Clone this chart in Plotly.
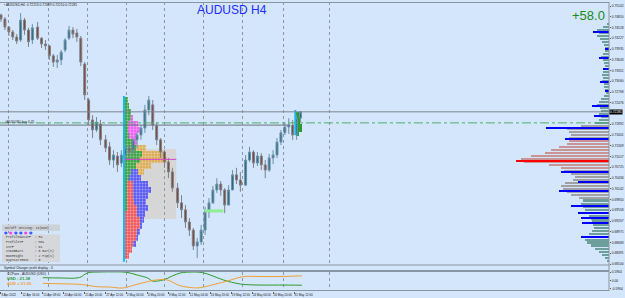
import plotly.graph_objects as go

# ---------------- data ----------------
header_text = "AUDUSD,H4  0.72213 0.72369 0.72210 0.72281"
chart_title = "AUDUSD H4"
profit_text = "+58.0"

time_labels = ["8 Apr 2022", "12 Apr 16:00", "15 Apr 08:00", "20 Apr 04:00", "21 Apr 20:00",
               "27 Apr 12:00", "2 May 04:00", "4 May 20:00", "9 May 12:00", "12 May 04:00",
               "16 May 20:00", "19 May 12:00", "24 May 04:00", "26 May 20:00", "31 May 12:00"]
label_bars = [0, 16, 32, 48, 64, 80, 96, 112, 128, 144, 160, 176, 192, 208, 224]
grid_bars = [6, 36, 66, 96, 125, 155, 185, 216, 251]

price_ticks = [0.75102, 0.74810, 0.74518, 0.74227, 0.73935, 0.73643, 0.73351, 0.73060,
               0.72768, 0.72476, 0.71892, 0.71601, 0.71309, 0.71017, 0.70725,
               0.70434, 0.70142, 0.69850, 0.69558, 0.69267, 0.68975, 0.68683, 0.68391, 0.68100]

candle_bars = [0, 3, 6, 9, 12, 15, 18, 21, 24, 28, 31, 34, 37, 40, 43, 46, 49, 52, 55, 58,
               61, 64, 67, 70, 73, 76, 80, 83, 86, 89, 92, 95, 98, 101, 104, 107, 110, 113,
               116, 119, 122, 125, 128, 131, 135, 138, 141, 144, 147, 150, 153, 156, 159, 162,
               165, 168, 171, 174, 177, 180, 183, 187, 190, 193, 196, 199, 202, 205, 208, 211,
               214, 217, 220, 223, 226, 229]
open_ = [0.7486, 0.7475, 0.7453, 0.7440, 0.7426, 0.7418, 0.7472, 0.7445, 0.7418, 0.7453,
         0.7423, 0.7407, 0.7402, 0.7375, 0.7358, 0.7364, 0.7391, 0.7423, 0.7445, 0.7437,
         0.7423, 0.7353, 0.7255, 0.7201, 0.7174, 0.7190, 0.7147, 0.7128, 0.7092, 0.7103,
         0.7084, 0.7106, 0.7125, 0.7119, 0.7147, 0.7160, 0.7179, 0.7228, 0.7242, 0.7185,
         0.7147, 0.7114, 0.7087, 0.7060, 0.7016, 0.6976, 0.6957, 0.6924, 0.6902, 0.6859,
         0.6870, 0.6902, 0.6951, 0.6976, 0.7011, 0.7027, 0.7011, 0.6970, 0.7011, 0.7052,
         0.7038, 0.7024, 0.7092, 0.7114, 0.7084, 0.7103, 0.7079, 0.7065, 0.7098, 0.7106,
         0.7141, 0.7166, 0.7182, 0.7187, 0.7160, 0.7206]
high = [0.7489, 0.7480, 0.7456, 0.7445, 0.7434, 0.7491, 0.7478, 0.7451, 0.7461, 0.7467,
        0.7426, 0.7418, 0.7404, 0.7380, 0.7377, 0.7391, 0.7423, 0.7456, 0.7453, 0.7448,
        0.7429, 0.7358, 0.7261, 0.7214, 0.7209, 0.7201, 0.7160, 0.7141, 0.7119, 0.7114,
        0.7119, 0.7133, 0.7133, 0.7152, 0.7168, 0.7187, 0.7242, 0.7266, 0.7255, 0.7195,
        0.7152, 0.7119, 0.7098, 0.7071, 0.7030, 0.6997, 0.6970, 0.6935, 0.6908, 0.6881,
        0.6916, 0.6965, 0.6989, 0.7022, 0.7043, 0.7035, 0.7016, 0.7024, 0.7065, 0.7071,
        0.7060, 0.7106, 0.7128, 0.7119, 0.7114, 0.7111, 0.7092, 0.7109, 0.7119, 0.7152,
        0.7174, 0.7195, 0.7206, 0.7201, 0.7214, 0.7225]
low = [0.7467, 0.7445, 0.7429, 0.7418, 0.7407, 0.7413, 0.7432, 0.7399, 0.7407, 0.7418,
       0.7396, 0.7391, 0.7364, 0.7345, 0.7342, 0.7350, 0.7385, 0.7418, 0.7423, 0.7413,
       0.7347, 0.7255, 0.7187, 0.7152, 0.7168, 0.7133, 0.7114, 0.7079, 0.7071, 0.7060,
       0.7073, 0.7087, 0.7092, 0.7106, 0.7125, 0.7147, 0.7166, 0.7214, 0.7174, 0.7133,
       0.7098, 0.7071, 0.7043, 0.7006, 0.6962, 0.6935, 0.6908, 0.6886, 0.6848, 0.6826,
       0.6862, 0.6889, 0.6935, 0.6973, 0.7003, 0.6995, 0.6948, 0.6970, 0.7011, 0.7027,
       0.7006, 0.7024, 0.7087, 0.7071, 0.7076, 0.7065, 0.7043, 0.7060, 0.7081, 0.7098,
       0.7133, 0.7160, 0.7163, 0.7147, 0.7147, 0.7195]
close = [0.7475, 0.7453, 0.7440, 0.7426, 0.7415, 0.7472, 0.7445, 0.7413, 0.7451, 0.7423,
         0.7407, 0.7402, 0.7375, 0.7358, 0.7364, 0.7385, 0.7418, 0.7445, 0.7434, 0.7426,
         0.7358, 0.7269, 0.7201, 0.7174, 0.7195, 0.7147, 0.7125, 0.7092, 0.7106, 0.7079,
         0.7106, 0.7125, 0.7114, 0.7147, 0.7160, 0.7179, 0.7228, 0.7255, 0.7187, 0.7147,
         0.7114, 0.7087, 0.7060, 0.7016, 0.6976, 0.6957, 0.6924, 0.6902, 0.6859, 0.6870,
         0.6902, 0.6951, 0.6976, 0.7011, 0.7027, 0.7011, 0.6970, 0.7011, 0.7052, 0.7038,
         0.7024, 0.7092, 0.7114, 0.7084, 0.7103, 0.7079, 0.7065, 0.7098, 0.7106, 0.7141,
         0.7166, 0.7182, 0.7187, 0.7160, 0.7206, 0.7223]

bid_price = 0.7223
bid_label = "0.72281"
order_price = 0.7193
level_price = 0.7187
level_end_bar = 221
support_price = 0.6954
support_bars = [156, 170]

# left (multi-day) market profile
profile_start_bar = 94
profile_top, profile_bottom = 0.7266, 0.6816
lp_prices = [0.7255, 0.7239, 0.7223, 0.7206, 0.7190, 0.7174, 0.7157, 0.7141, 0.7125,
             0.7109, 0.7092, 0.7076, 0.7060, 0.7043, 0.7027, 0.7011, 0.6995, 0.6978,
             0.6962, 0.6946, 0.6929, 0.6913, 0.6897, 0.6881, 0.6864, 0.6848, 0.6832]
lp_green = [3, 4, 5, 5, 3, 3, 4, 6, 9, 14, 12, 9, 5, 4, 2, 2, 2, 2, 2, 1, 1, 1, 1, 1, 1, 1, 1]
lp_red = [0] * 14 + [5, 5, 5, 6, 8, 9, 11, 11, 9, 8, 6, 5, 3]
lp_blue = [0] * 12 + [6, 9, 11, 14, 11, 9, 8, 6, 3, 2, 2, 2, 2, 0, 0]
lp_orange = [0] * 7 + [2, 8, 17, 21, 12, 4] + [0] * 14
lp_magenta = [0, 0, 0, 2, 8, 9, 6, 2] + [0] * 19
lp_poc = 0.7094
lp_poc_bars = [94, 134]
box_bars = [107, 134]
box_prices = [0.7122, 0.6932]

# current-day mini profile
cd_start_bar = 225
cd_top, cd_bottom = 0.7228, 0.7160
cd_prices = [0.7217, 0.7206, 0.7195, 0.7185, 0.7174, 0.7163]
cd_green = [2, 3, 3, 4, 4, 2]

# right volume profile (levels / volume)
vp_prices = [0.7461, 0.7453, 0.7445, 0.7437, 0.7429, 0.7421, 0.7413, 0.7404, 0.7396, 0.7388,
             0.7380, 0.7372, 0.7364, 0.7356, 0.7348, 0.7339, 0.7331, 0.7323, 0.7315, 0.7307,
             0.7299, 0.7291, 0.7282, 0.7274, 0.7266, 0.7258, 0.7250, 0.7242, 0.7234, 0.7226,
             0.7217, 0.7209, 0.7201, 0.7193, 0.7185, 0.7177, 0.7169, 0.7160, 0.7152, 0.7144,
             0.7136, 0.7128, 0.7120, 0.7112, 0.7104, 0.7095, 0.7087, 0.7079, 0.7071, 0.7063,
             0.7055, 0.7047, 0.7038, 0.7030, 0.7022, 0.7014, 0.7006, 0.6998, 0.6990, 0.6982,
             0.6973, 0.6965, 0.6957, 0.6949, 0.6941, 0.6933, 0.6925, 0.6917, 0.6908, 0.6900,
             0.6892, 0.6884, 0.6876, 0.6868, 0.6860, 0.6851, 0.6843, 0.6835, 0.6827, 0.6819]
vp_volume = [2, 6, 12, 10, 12, 9, 7, 5, 4, 4, 6, 8, 6, 5, 4, 5, 6, 7, 6, 7,
             5, 5, 4, 3, 5, 8, 10, 12, 9, 8, 10, 8, 10, 14, 28, 42, 40, 38, 40, 40,
             42, 50, 58, 64, 78, 88, 85, 60, 48, 45, 38, 34, 36, 44, 48, 46, 42, 38, 30, 26,
             28, 26, 24, 22, 20, 18, 17, 16, 15, 17, 20, 22, 24, 22, 18, 14, 10, 7, 4, 2]
value_area = [0.7190, 0.6984]
poc_zone = [0.7150, 0.7068]
hvn_prices = [0.7440, 0.7394, 0.7369, 0.7339, 0.7304, 0.7280, 0.7239, 0.7212, 0.7179,
              0.7149, 0.7060, 0.7033, 0.7008, 0.6967, 0.6948, 0.6935, 0.6921, 0.6883]
hvn_volume = [16, 4, 10, 6, 9, 4, 17, 15, 63, 44, 48, 31, 50, 38, 31, 28, 27, 28]
poc_price = 0.7090
poc_volume = 93

# CCPairs currency strength sub-window
ccp_bars = [32, 45, 60, 66, 76, 87, 96, 104, 112, 116, 124, 131, 137, 147, 154, 162, 170,
            183, 198, 213, 230]
usd_strength = [0.20, 0.18, 0.21, 0.53, 0.60, 0.61, 0.58, 0.39, 0.18, -0.04, 0.04, 0.32,
                0.53, 0.60, 0.56, 0.32, 0.04, -0.25, -0.32, -0.32, -0.33]
aud_bars = [32, 45, 60, 74, 83, 93, 102, 112, 119, 127, 137, 147, 152, 164, 173, 185, 198,
            213, 230]
aud_strength = [-0.20, -0.23, -0.27, -0.44, -0.46, -0.53, -0.32, -0.08, 0.04, 0.04, -0.37,
                -0.51, -0.51, -0.25, -0.04, 0.27, 0.28, 0.28, 0.33]
sub_ticks = [0.5964, 0.0, -0.5964]
sub_tick_text = ["0.5964", "0.00", "-0.5964"]

info_lines = ["ProfileDataTF  : H4", "ProfileTF      : MN1", "ISTF           : D1",
              "ISNumBars      : 6 Bar(s)", "BoxHeight      : 2 Pip(s)", "DayStartHour   : 0"]
info_dots = ["#3a5bff", "#ff44dd", "#3a5bff", "#3a5bff", "#ff44dd", "#3a5bff"]

# ---------------- figure ----------------
BG = "#d4e6fb"
W, H = 625, 298
M_L, M_R, M_T, M_B = 0, 16, 2, 7
plot_h = H - M_T - M_B
plot_w = W - M_L - M_R


def ypx(y_px):
    return (H - M_B - y_px) / plot_h


def dom(y_top_px, y_bot_px):
    return [ypx(y_bot_px), ypx(y_top_px)]


def xpx(x_px):
    return (x_px - M_L) / plot_w


main_dom = dom(M_T, 265)
tiny_dom = dom(266, 270)
sub_dom = dom(272, H - M_B)

fig = go.Figure()

fig.add_trace(go.Candlestick(
    x=candle_bars, open=open_, high=high, low=low, close=close, xaxis="x", yaxis="y",
    increasing=dict(line=dict(color="#6a90a8", width=1), fillcolor="#2d6878"),
    decreasing=dict(line=dict(color="#7f8088", width=1), fillcolor="#7a4434"),
    whiskerwidth=0, showlegend=False, hoverinfo="skip"))

# left profile (stacked days)
segments = [(lp_green, "#2e9a2e"), (lp_red, "#f24a4a"), (lp_blue, "#4b4bf5"),
            (lp_orange, "#dca84a"), (lp_magenta, "#f050f0")]
cum = [0] * len(lp_prices)
for vals, col in segments:
    fig.add_trace(go.Bar(
        orientation="h", y=lp_prices, x=vals, base=[profile_start_bar + c for c in cum],
        width=0.0015, marker=dict(color=col, line=dict(width=0), opacity=0.9,
                                  pattern=dict(shape=".", fgcolor="#ffffff", fgopacity=0.45,
                                               size=3, solidity=0.35)),
        xaxis="x", yaxis="y", showlegend=False, hoverinfo="skip"))
    cum = [c + v for c, v in zip(cum, vals)]

fig.add_trace(go.Scatter(x=lp_poc_bars, y=[lp_poc, lp_poc], mode="lines",
                         line=dict(color="#d040d0", width=1), xaxis="x", yaxis="y",
                         showlegend=False, hoverinfo="skip"))
fig.add_trace(go.Scatter(x=[profile_start_bar, profile_start_bar], y=[profile_top, profile_bottom],
                         mode="lines", line=dict(color="#16b8f0", width=2), xaxis="x", yaxis="y",
                         showlegend=False, hoverinfo="skip"))

# current day mini profile
fig.add_trace(go.Bar(orientation="h", y=cd_prices, x=cd_green, base=cd_start_bar + 0.8,
                     width=0.001, marker=dict(color="#2e9a2e", line=dict(width=0)),
                     xaxis="x", yaxis="y", showlegend=False, hoverinfo="skip"))
fig.add_trace(go.Scatter(x=[cd_start_bar, cd_start_bar], y=[cd_top, cd_bottom], mode="lines",
                         line=dict(color="#16b8f0", width=2), xaxis="x", yaxis="y",
                         showlegend=False, hoverinfo="skip"))

# support mark
fig.add_trace(go.Scatter(x=support_bars, y=[support_price, support_price], mode="lines",
                         line=dict(color="#8ef08e", width=3), xaxis="x", yaxis="y",
                         showlegend=False, hoverinfo="skip"))

# right volume profile
vp_colors = []
for p in vp_prices:
    if poc_zone[1] <= p <= poc_zone[0]:
        vp_colors.append("#c99494")
    elif value_area[1] <= p <= value_area[0]:
        vp_colors.append("#a3a0a4")
    else:
        vp_colors.append("#6e9e9c")
fig.add_trace(go.Bar(orientation="h", y=vp_prices, x=vp_volume, width=0.00062,
                     marker=dict(color=vp_colors, line=dict(width=0)),
                     xaxis="x2", yaxis="y", showlegend=False, hoverinfo="skip"))
fig.add_trace(go.Bar(orientation="h", y=hvn_prices, x=hvn_volume, width=0.00042,
                     marker=dict(color="#0000ff", line=dict(width=0)),
                     xaxis="x2", yaxis="y", showlegend=False, hoverinfo="skip"))
fig.add_trace(go.Bar(orientation="h", y=[poc_price], x=[poc_volume], width=0.0006,
                     marker=dict(color="#ff0000", line=dict(width=0)),
                     xaxis="x2", yaxis="y", showlegend=False, hoverinfo="skip"))

# sub-window lines
fig.add_trace(go.Scatter(x=ccp_bars, y=usd_strength, mode="lines",
                         line=dict(color="#2f9a2f", width=1, shape="spline"),
                         xaxis="x", yaxis="y3", showlegend=False, hoverinfo="skip"))
fig.add_trace(go.Scatter(x=aud_bars, y=aud_strength, mode="lines",
                         line=dict(color="#f0a030", width=1, shape="spline"),
                         xaxis="x", yaxis="y3", showlegend=False, hoverinfo="skip"))

# shapes
shapes = [
    dict(type="rect", xref="x", yref="y", x0=box_bars[0], x1=box_bars[1], y0=box_prices[0], y1=box_prices[1],
         fillcolor="#d6d6d6", line=dict(width=0), layer="below"),
    dict(type="line", xref="x", yref="y", x0=-1, x1=level_end_bar, y0=level_price, y1=level_price,
         line=dict(color="#6a737c", width=1)),
    dict(type="line", xref="x domain", yref="y", x0=0, x1=1, y0=bid_price, y1=bid_price,
         line=dict(color="#7c8590", width=1)),
    dict(type="line", xref="x domain", yref="y", x0=0, x1=1, y0=order_price, y1=order_price,
         line=dict(color="#4caf6a", width=1, dash="dashdot")),
    # window separators / frame
    dict(type="line", xref="paper", yref="paper", x0=0, x1=1, y0=ypx(265), y1=ypx(265),
         line=dict(color="#8a959f", width=1)),
    dict(type="line", xref="paper", yref="paper", x0=0, x1=1, y0=ypx(271), y1=ypx(271),
         line=dict(color="#3c4650", width=1)),
    dict(type="line", xref="paper", yref="paper", x0=0, x1=1, y0=ypx(290.5), y1=ypx(290.5),
         line=dict(color="#8a959f", width=1)),
    dict(type="line", xref="paper", yref="paper", x0=1, x1=1, y0=0, y1=1,
         line=dict(color="#8a959f", width=1)),
    dict(type="line", xref="paper", yref="paper", x0=0, x1=1, y0=ypx(2.5), y1=ypx(2.5),
         line=dict(color="#8a959f", width=1)),
    # info panel
    dict(type="rect", xref="paper", yref="paper", x0=xpx(2), x1=xpx(60), y0=ypx(231), y1=ypx(224.5),
         fillcolor="#cdd2d8", line=dict(width=0)),
    dict(type="rect", xref="paper", yref="paper", x0=xpx(2), x1=xpx(60), y0=ypx(262), y1=ypx(234.5),
         fillcolor="#d5d7db", line=dict(width=0)),
]

small = dict(family="Liberation Sans", size=3.3, color="#202020")
mono = dict(family="Liberation Mono", size=3.2, color="#303030")
ann = []
ann.append(dict(text=chart_title, xref="paper", yref="paper", x=xpx(232), y=ypx(10),
                xanchor="center", yanchor="middle", showarrow=False,
                font=dict(family="Liberation Sans", size=12, color="#1f2bff")))
ann.append(dict(text=profit_text, xref="paper", yref="paper", x=xpx(588), y=ypx(15),
                xanchor="center", yanchor="middle", showarrow=False,
                font=dict(family="Liberation Sans", size=13, color="#1a8a1a")))
ann.append(dict(text="\u25aa " + header_text, xref="paper", yref="paper", x=xpx(2), y=ypx(4.5),
                xanchor="left", yanchor="middle", showarrow=False, font=small))
ann.append(dict(text="#AUDUSD buy 0.75", xref="paper", yref="y", x=xpx(3), y=level_price + 0.0008,
                xanchor="left", yanchor="middle", showarrow=False, font=small))
ann.append(dict(text=bid_label, xref="paper", yref="y", x=1.0, y=bid_price, xanchor="left", yanchor="middle",
                showarrow=False, bgcolor="#000000", borderpad=0,
                font=dict(family="Liberation Sans", size=3.3, color="#ffffff")))
ann.append(dict(text="On/Off Setting: 1x(NUM)", xref="paper", yref="paper", x=xpx(3), y=ypx(227.5),
                xanchor="left", yanchor="middle", showarrow=False, font=mono))
for i, col in enumerate(info_dots):
    ann.append(dict(text="\u25cf", xref="paper", yref="paper", x=xpx(6 + 5 * i), y=ypx(232.5),
                    xanchor="center", yanchor="middle", showarrow=False,
                    font=dict(family="DejaVu Sans", size=4, color=col)))
for i, line in enumerate(info_lines):
    ann.append(dict(text=line, xref="paper", yref="paper", x=xpx(4), y=ypx(237.5 + 4.5 * i),
                    xanchor="left", yanchor="middle", showarrow=False, font=mono))
ann.append(dict(text="Symbol Changer profit display - 0", xref="paper", yref="paper", x=xpx(2),
                y=ypx(268), xanchor="left", yanchor="middle", showarrow=False, font=small))
ann.append(dict(text="CCPairs - AUDUSD (USD)", xref="paper", yref="paper", x=xpx(5),
                y=ypx(273.5), xanchor="left", yanchor="middle", showarrow=False, font=small))
ann.append(dict(text="<b>USD : 21.38</b>", xref="paper", yref="paper", x=xpx(5),
                y=ypx(278.3), xanchor="left", yanchor="middle", showarrow=False,
                font=dict(family="Liberation Sans", size=4.2, color="#2f9a2f")))
ann.append(dict(text="<b>AUD = 21.50</b>", xref="paper", yref="paper", x=xpx(5),
                y=ypx(283.5), xanchor="left", yanchor="middle", showarrow=False,
                font=dict(family="Liberation Sans", size=4.2, color="#f0a030")))

fig.update_layout(
    width=W, height=H, margin=dict(l=M_L, r=M_R, t=M_T, b=M_B, autoexpand=False),
    paper_bgcolor=BG, plot_bgcolor=BG, barmode="overlay", bargap=0,
    showlegend=False, shapes=shapes, annotations=ann,
    xaxis=dict(domain=[0, 1], anchor="y3", range=[-0.76, 464.8], rangeslider=dict(visible=False),
               tickmode="array", tickvals=label_bars, ticktext=time_labels, tickangle=0,
               ticklabelposition="outside right", ticks="outside", ticklen=2, tickcolor="#606060",
               tickfont=dict(family="Liberation Sans", size=3.0, color="#202020"), automargin=False,
               showgrid=False, zeroline=False, showline=False,
               minor=dict(tickmode="array", tickvals=grid_bars, showgrid=True, griddash="dot",
                          gridcolor="#8c98a6", gridwidth=1, ticks="")),
    xaxis2=dict(overlaying="x", anchor="y", range=[609, 0], visible=False, showgrid=False),
    yaxis=dict(domain=main_dom, anchor="x", side="right", range=[0.68073, 0.75211],
               tickmode="array", tickvals=price_ticks, ticktext=[f"{v:.5f}" for v in price_ticks],
               ticks="outside", ticklen=1, tickcolor="#606060", tickfont=small, automargin=False,
               showgrid=False, zeroline=False, showline=False),
    yaxis2=dict(domain=tiny_dom, anchor="x", side="right", range=[-1, 1], tickmode="array",
                tickvals=[0], ticktext=["0"], tickfont=small, automargin=False,
                showgrid=False, zeroline=False),
    yaxis3=dict(domain=sub_dom, anchor="x", side="right", range=[-0.74, 0.60],
                tickmode="array", tickvals=sub_ticks, ticktext=sub_tick_text,
                ticks="outside", ticklen=1, tickcolor="#606060", tickfont=small, automargin=False,
                showgrid=False, zeroline=False),
)

fig.write_html("out.html")
